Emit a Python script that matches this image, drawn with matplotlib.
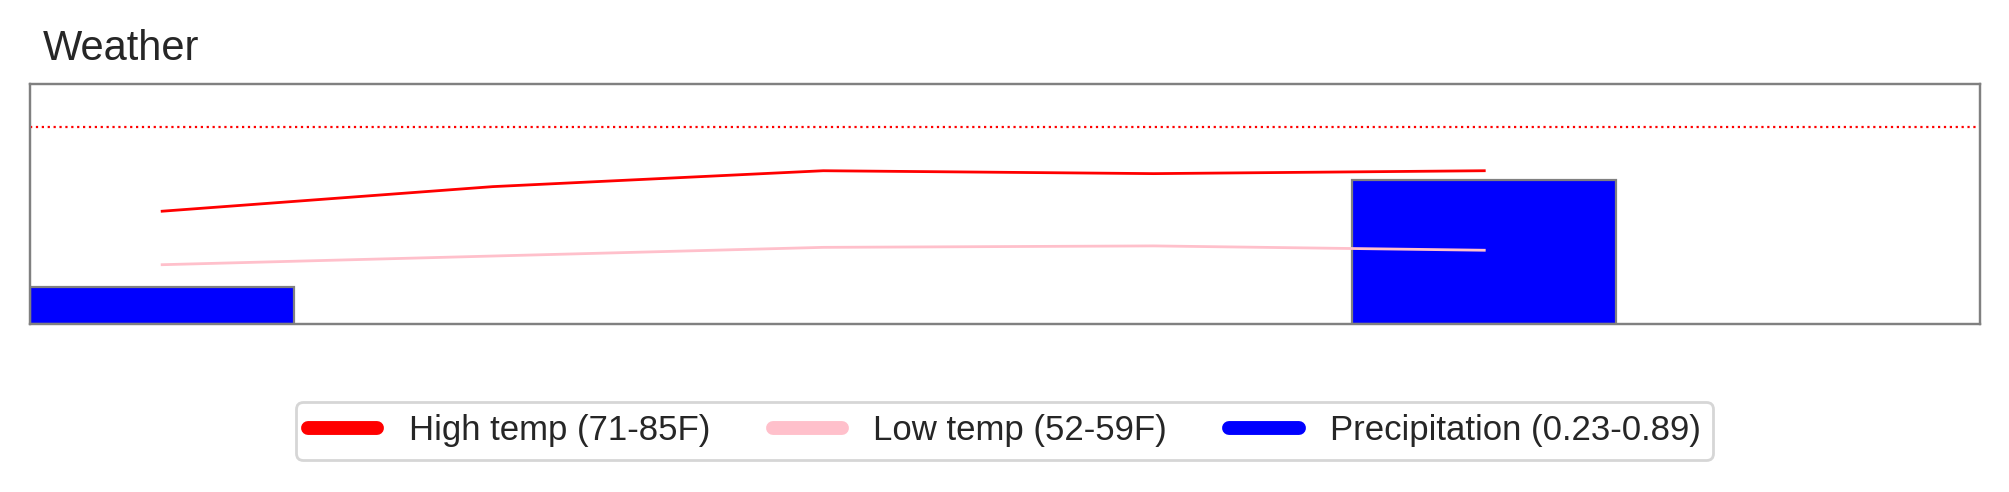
from matplotlib import pyplot as plt
from matplotlib.lines import Line2D

plt.rcParams['font.family'] = ['Liberation Sans', 'DejaVu Sans']
plt.rcParams['text.color'] = '#262626'

# data
days = [0, 1, 2, 3, 4]
high_temp = [71, 79.5, 85, 84, 85]
low_temp = [52.5, 55.5, 58.5, 59, 57.5]
precip_days = [0, 4]
precip = [0.23, 0.89]
hot_line = 100

labels = ["High temp (71-85F)", "Low temp (52-59F)", "Precipitation (0.23-0.89)"]
colors = ["red", "pink", "blue"]

fig = plt.figure(figsize=(10.045, 2.46), dpi=200)
ax = fig.add_axes([0.0149, 0.3415, 0.9707, 0.4878])

ax.bar(precip_days, precip, width=0.8, color="blue", edgecolor="gray", linewidth=0.8)
ax.set_xlim(-0.4, 5.5)
ax.set_ylim(0, 0.89 * 5 / 3)
ax.set_xticks([])
ax.set_yticks([])

ax2 = ax.twinx()
ax2.plot(days, high_temp, color="red", lw=1)
ax2.plot(days, low_temp, color="pink", lw=1)
ax2.axhline(hot_line, color="red", ls=":", lw=0.8)
ax2.set_ylim(32, 115)
ax2.set_yticks([])

for a in (ax, ax2):
    for s in a.spines.values():
        s.set_color("gray")
        s.set_linewidth(0.8)

fig.text(43 / 2009, 432 / 492, "Weather", fontsize=15, va="baseline", ha="left")

handles = [Line2D([0], [0], color=c, lw=5, solid_capstyle="round") for c in colors]
leg = fig.legend(handles, labels, loc="center", bbox_to_anchor=(0.5, 0.124), ncol=3,
                 fontsize=12.5, frameon=True, handlelength=2.0, columnspacing=1.8,
                 borderpad=0.35, borderaxespad=0, handletextpad=0.9)
leg.get_frame().set_edgecolor("#cccccc")

fig.savefig("out.png", dpi=200)
